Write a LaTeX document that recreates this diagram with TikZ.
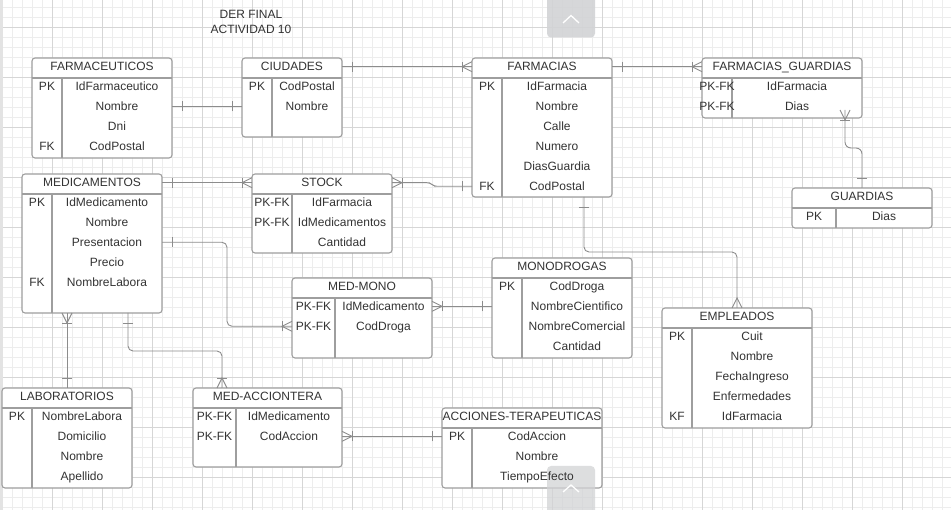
\documentclass[tikz,border=0pt]{standalone}
\usepackage{fontspec}
\setmainfont{Liberation Sans}
\usetikzlibrary{calc}
\definecolor{txtc}{HTML}{333333}
\definecolor{bord}{HTML}{9E9E9E}
\definecolor{connc}{HTML}{8C8C8C}
\definecolor{gridminor}{HTML}{EDEDED}
\definecolor{gridmajor}{HTML}{D6D6D6}
\definecolor{uigray}{HTML}{D2D3D5}
\tikzset{
 ent/.style={draw=bord, line width=1.1pt, rounded corners=3pt, fill=white, anchor=north west, inner sep=0pt, outer sep=0pt},
 sepl/.style={draw=bord, line width=1.1pt},
 hdrl/.style={draw=bord, line width=1.6pt},
 txt/.style={text=txtc, font=\fontsize{12}{14}\selectfont, inner sep=0pt, outer sep=0pt, text height=8.6pt, text depth=0pt, anchor=center},
 conn/.style={draw=connc, line width=0.9pt},
 minorgrid/.style={draw=gridminor, line width=0.8pt},
 majorgrid/.style={draw=gridmajor, line width=0.8pt},
}
\newcommand\erent[7]{%
  \node[ent, minimum width={#4-#2}, minimum height={#5-#3}] (#1) at (#2,#3) {};
  \draw[hdrl] (#2,#3+20) -- (#4,#3+20);
  \draw[sepl] (#6,#3+20) -- (#6,#5);
  \node[txt] (#1-t) at ({(#2+#4)/2},#3+8.7) {#7};
}
\newcommand\fld[4]{\node[txt] (#1) at (#2,#3) {#4};}
\newcommand\onem[2]{\draw[conn,shift={(#1)},rotate=#2] (10,-5) -- (10,5);}
\newcommand\manym[2]{\draw[conn,shift={(#1)},rotate=#2] (0,-5) -- (10,0) -- (0,5);}
\begin{document}
\begin{tikzpicture}[x=1pt,y=-1pt]
\useasboundingbox (0,0) rectangle (951,510);
\clip (0,0) rectangle (951,510);
\fill[white] (0,0) rectangle (951,510);
% grid
\foreach \i in {0,...,95} {\draw[minorgrid] ({2+10*\i},0) -- ({2+10*\i},510);}
\foreach \j in {0,...,50} {\draw[minorgrid] (0,{7+10*\j}) -- (951,{7+10*\j});}
\foreach \i in {0,...,19} {\draw[majorgrid] ({2+50*\i},0) -- ({2+50*\i},510);}
\foreach \j in {0,...,9} {\draw[majorgrid] (0,{27+50*\j}) -- (951,{27+50*\j});}
\fill[gray!22] (0,0) rectangle (2.6,510);
% title
\node[txt] (title1) at (251,14.7) {DER FINAL};
\node[txt] (title2) at (251,29.5) {ACTIVIDAD 10};
% FARMACEUTICOS
\erent{farmaceuticos}{32}{58}{172}{158}{62}{FARMACEUTICOS}
\fld{fc-k1}{47}{86.3}{PK}
\fld{fc-f1}{117}{86.3}{IdFarmaceutico}
\fld{fc-f2}{117}{106.3}{Nombre}
\fld{fc-f3}{117}{126.3}{Dni}
\fld{fc-k4}{47}{146.3}{FK}
\fld{fc-f4}{117}{146.3}{CodPostal}
% CIUDADES
\erent{ciudades}{242}{58}{342}{137}{272}{CIUDADES}
\fld{ci-k1}{257}{86.3}{PK}
\fld{ci-f1}{307}{86.3}{CodPostal}
\fld{ci-f2}{307}{106.3}{Nombre}
% FARMACIAS
\erent{farmacias}{472}{58}{612}{197}{502}{FARMACIAS}
\fld{fm-k1}{487}{86.3}{PK}
\fld{fm-f1}{557}{86.3}{IdFarmacia}
\fld{fm-f2}{557}{106.3}{Nombre}
\fld{fm-f3}{557}{126.3}{Calle}
\fld{fm-f4}{557}{146.3}{Numero}
\fld{fm-f5}{557}{166.3}{DiasGuardia}
\fld{fm-k6}{487}{186.3}{FK}
\fld{fm-f6}{557}{186.3}{CodPostal}
% FARMACIAS_GUARDIAS
\erent{fg}{702}{58}{862}{118}{732}{FARMACIAS\_GUARDIAS}
\fld{fg-k1}{717}{86.3}{PK-FK}
\fld{fg-f1}{797}{86.3}{IdFarmacia}
\fld{fg-k2}{717}{106.3}{PK-FK}
\fld{fg-f2}{797}{106.3}{Dias}
% GUARDIAS
\erent{guardias}{792}{188}{932}{228}{836}{GUARDIAS}
\fld{gu-k1}{814}{216.3}{PK}
\fld{gu-f1}{884}{216.3}{Dias}
% MEDICAMENTOS
\erent{medicamentos}{22}{174}{162}{313}{52}{MEDICAMENTOS}
\fld{med-k1}{37}{202.3}{PK}
\fld{med-f1}{107}{202.3}{IdMedicamento}
\fld{med-f2}{107}{222.3}{Nombre}
\fld{med-f3}{107}{242.3}{Presentacion}
\fld{med-f4}{107}{262.3}{Precio}
\fld{med-k5}{37}{282.3}{FK}
\fld{med-f5}{107}{282.3}{NombreLabora}
% STOCK
\erent{stock}{252}{174}{392}{253}{292}{STOCK}
\fld{st-k1}{272}{202.3}{PK-FK}
\fld{st-f1}{342}{202.3}{IdFarmacia}
\fld{st-k2}{272}{222.3}{PK-FK}
\fld{st-f2}{342}{222.3}{IdMedicamentos}
\fld{st-f3}{342}{242.3}{Cantidad}
% MED-MONO
\erent{medmono}{292}{278}{432}{358}{335}{MED-MONO}
\fld{mm-k1}{313.5}{306.3}{PK-FK}
\fld{mm-f1}{383.5}{306.3}{IdMedicamento}
\fld{mm-k2}{313.5}{326.3}{PK-FK}
\fld{mm-f2}{383.5}{326.3}{CodDroga}
% MONODROGAS
\erent{monodrogas}{492}{258}{632}{358}{522}{MONODROGAS}
\fld{mo-k1}{507}{286.3}{PK}
\fld{mo-f1}{577}{286.3}{CodDroga}
\fld{mo-f2}{577}{306.3}{NombreCientifico}
\fld{mo-f3}{577}{326.3}{NombreComercial}
\fld{mo-f4}{577}{346.3}{Cantidad}
% EMPLEADOS
\erent{empleados}{662}{308}{812}{428}{692}{EMPLEADOS}
\fld{em-k1}{677}{336.3}{PK}
\fld{em-f1}{752}{336.3}{Cuit}
\fld{em-f2}{752}{356.3}{Nombre}
\fld{em-f3}{752}{376.3}{FechaIngreso}
\fld{em-f4}{752}{396.3}{Enfermedades}
\fld{em-k5}{677}{416.3}{KF}
\fld{em-f5}{752}{416.3}{IdFarmacia}
% LABORATORIOS
\erent{laboratorios}{2}{388}{132}{488}{32}{LABORATORIOS}
\fld{la-k1}{17}{416.3}{PK}
\fld{la-f1}{82}{416.3}{NombreLabora}
\fld{la-f2}{82}{436.3}{Domicilio}
\fld{la-f3}{82}{456.3}{Nombre}
\fld{la-f4}{82}{476.3}{Apellido}
% MED-ACCIONTERA
\erent{medacc}{193}{388}{342}{467}{236}{MED-ACCIONTERA}
\fld{ma-k1}{214.5}{416.3}{PK-FK}
\fld{ma-f1}{289}{416.3}{IdMedicamento}
\fld{ma-k2}{214.5}{436.3}{PK-FK}
\fld{ma-f2}{289}{436.3}{CodAccion}
% ACCIONES-TERAPEUTICAS
\erent{acciones}{442}{408}{602}{488}{472}{ACCIONES-TERAPEUTICAS}
\fld{ac-k1}{457}{436.3}{PK}
\fld{ac-f1}{537}{436.3}{CodAccion}
\fld{ac-f2}{537}{456.3}{Nombre}
% connectors
\coordinate (a1) at (farmaceuticos.east |- fc-f2);
\coordinate (b1) at (ciudades.west |- fc-f2);
\draw[conn] (a1) -- (b1); \onem{a1}{0} \onem{b1}{180}
\coordinate (a2) at (ciudades.east |- ciudades-t);
\coordinate (b2) at (farmacias.west |- ciudades-t);
\draw[conn] (a2) -- (b2); \onem{a2}{0} \manym{b2}{180} \onem{b2}{180}
\coordinate (a3) at (farmacias.east |- farmacias-t);
\coordinate (b3) at (fg.west |- farmacias-t);
\draw[conn] (a3) -- (b3); \onem{a3}{0} \manym{b3}{180} \onem{b3}{180}
\coordinate (a4) at ($(fg.south west)+(143,-8)$);
\coordinate (b4) at (guardias.north);
\draw[conn,rounded corners=6] (a4) -- ++(0,38) -| (b4); \manym{a4}{270} \onem{a4}{270} \onem{b4}{90}
\coordinate (a5) at (farmacias.west |- fm-f6);
\coordinate (b5) at (stock.east |- stock-t);
\draw[conn,rounded corners=3] (a5) -- ++(-38,0) -- ($(b5)+(38,0)$) -- (b5); \onem{a5}{180} \manym{b5}{0} \onem{b5}{0}
\coordinate (a6) at (medicamentos.east |- medicamentos-t);
\coordinate (b6) at (stock.west |- medicamentos-t);
\draw[conn] (a6) -- (b6); \onem{a6}{0} \manym{b6}{180} \onem{b6}{180}
\coordinate (a7) at (medicamentos.east |- med-f3);
\coordinate (b7) at (medmono.west |- mm-f2);
\draw[conn,rounded corners=5] (a7) -- ++(65,0) |- (b7); \onem{a7}{0} \manym{b7}{180} \onem{b7}{180}
\coordinate (a8) at (medmono.east |- mm-f1);
\coordinate (b8) at (monodrogas.west |- mm-f1);
\draw[conn] (a8) -- (b8); \manym{a8}{0} \onem{a8}{0} \onem{b8}{180}
\coordinate (a9) at ($(farmacias.south west)+(112,0)$);
\coordinate (b9) at (empleados.north);
\draw[conn,rounded corners=5] (a9) -- ++(0,55) -| (b9); \onem{a9}{270} \manym{b9}{90}
\coordinate (a10) at ($(medicamentos.south west)+(45,0)$);
\coordinate (b10) at (laboratorios.north);
\draw[conn] (a10) -- (b10); \manym{a10}{270} \onem{a10}{270} \onem{b10}{90}
\coordinate (a11) at ($(medicamentos.south west)+(106,0)$);
\coordinate (b11) at ($(medacc.north west)+(29,0)$);
\draw[conn,rounded corners=5] (a11) -- ++(0,38) -| (b11); \onem{a11}{270} \manym{b11}{90} \onem{b11}{90}
\coordinate (a12) at (medacc.east |- ma-f2);
\coordinate (b12) at (acciones.west |- ma-f2);
\draw[conn] (a12) -- (b12); \manym{a12}{0} \onem{a12}{0} \onem{b12}{180}
% UI buttons
\fill[uigray, opacity=0.9, rounded corners=4] (547,-6) rectangle (595,37.5);
\draw[white, line width=1.3pt] (563,23) -- (571,15.5) -- (579,23);
\fill[uigray, opacity=0.75, rounded corners=4] (547,466) rectangle (595,516);
\draw[white, line width=1.3pt] (563,492) -- (571,485) -- (579,492);
% text seen through the lower button
\fld{ac-f3}{537}{476.3}{TiempoEfecto}
\end{tikzpicture}
\end{document}
